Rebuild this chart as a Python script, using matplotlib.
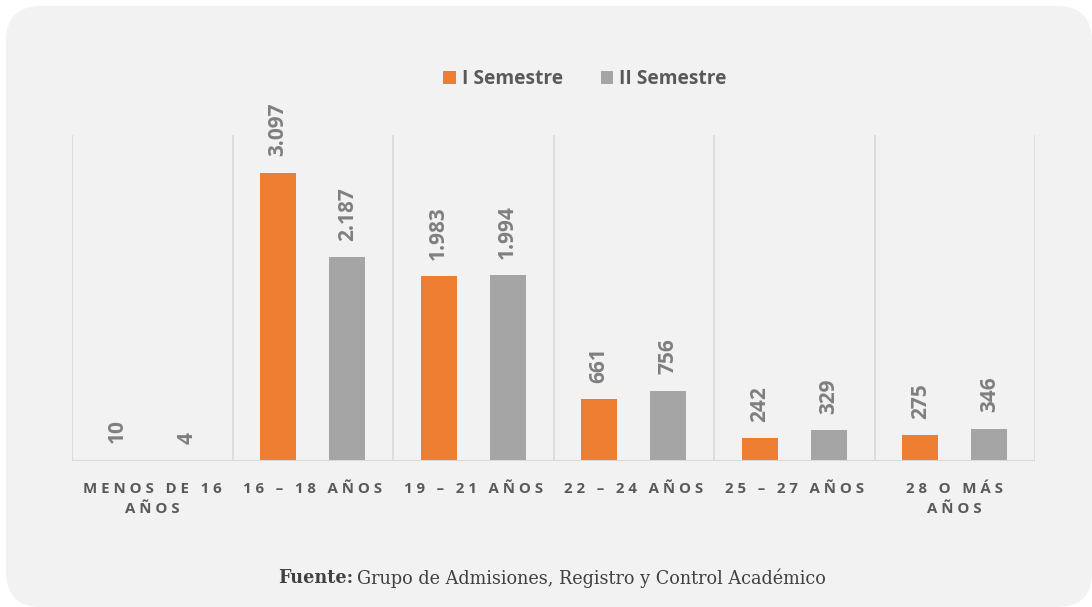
import numpy as np
import matplotlib
matplotlib.use("Agg")
import matplotlib.pyplot as plt
from matplotlib.patches import FancyBboxPatch, Patch

# datos
categorias = ["MENOS DE 16\nAÑOS", "16 – 18 AÑOS", "19 – 21 AÑOS",
              "22 – 24 AÑOS", "25 – 27 AÑOS", "28 O MÁS\nAÑOS"]
sem_1 = [10, 3097, 1983, 661, 242, 275]
sem_2 = [4, 2187, 1994, 756, 329, 346]
series = ["I Semestre", "II Semestre"]

NARANJA = "#ed7d31"
GRIS = "#a5a5a5"
W, H = 1092, 607


def espaciar(txt):
    # simula el espaciado entre letras
    lineas = []
    for linea in txt.split("\n"):
        lineas.append("   ".join(" ".join(p) for p in linea.split(" ")))
    return "\n".join(lineas)


def miles(v):
    return f"{v:,}".replace(",", ".")


fig = plt.figure(figsize=(W / 100, H / 100), dpi=100)
fig.patch.set_facecolor("white")
fondo = FancyBboxPatch((6 / W, 0), (W - 6) / W, (H - 6) / H,
                       boxstyle="round,pad=0,rounding_size=0.032",
                       transform=fig.transFigure, facecolor="#f2f2f2",
                       edgecolor="none", mutation_aspect=W / H, zorder=0)
fig.patches.append(fondo)

ax = fig.add_axes([72 / W, (H - 461) / H, (1035 - 72) / W, (461 - 135) / H])
ax.set_zorder(2)
ax.set_facecolor("none")
x = np.arange(len(categorias))
ancho = 0.225
off = 0.215
b1 = ax.bar(x - off, sem_1, ancho, color=NARANJA, zorder=3)
b2 = ax.bar(x + off, sem_2, ancho, color=GRIS, zorder=3)

for barras, vals in ((b1, sem_1), (b2, sem_2)):
    for b, v in zip(barras, vals):
        ax.annotate(miles(v), (b.get_x() + b.get_width() / 2, v),
                    xytext=(0, 12), textcoords="offset points",
                    rotation=90, ha="center", va="bottom",
                    fontsize=15, fontweight="bold", color="#7f7f7f",
                    family="Open Sans")

ax.set_xlim(-0.5, len(categorias) - 0.5)
ax.set_ylim(0, 3500)
for s in np.arange(-0.5, len(categorias), 1.0):
    ax.axvline(s, color="#d9d9d9", lw=1.2, zorder=1)
ax.axhline(0, color="#d9d9d9", lw=1.5, zorder=4)
for sp in ax.spines.values():
    sp.set_visible(False)
ax.set_yticks([])
ax.set_xticks(x)
ax.set_xticklabels([espaciar(c) for c in categorias], fontsize=10.8,
                   fontweight="bold", color="#595959", family="Open Sans",
                   linespacing=1.6)
ax.tick_params(axis="x", length=0, pad=15)

ley = [Patch(facecolor=NARANJA, label=series[0]),
       Patch(facecolor=GRIS, label=series[1])]
fig.legend(handles=ley, loc="center", bbox_to_anchor=(585 / W, 1 - 79 / H),
           ncol=2, frameon=False, handlelength=0.65, handleheight=0.65,
           handletextpad=0.3, columnspacing=2.0,
           prop={"family": "Open Sans", "weight": "bold", "size": 13.8},
           labelcolor="#595959")

fig.text(278 / W, 1 - 578 / H, "Fuente:", fontsize=12.7, fontweight="bold",
         color="#404040", family="DejaVu Serif", va="center")
fig.text(357 / W, 1 - 578 / H, "Grupo de Admisiones, Registro y Control Académico",
         fontsize=12.7, color="#404040", family="DejaVu Serif", va="center")

fig.savefig("out.png", dpi=100, facecolor=fig.get_facecolor())
